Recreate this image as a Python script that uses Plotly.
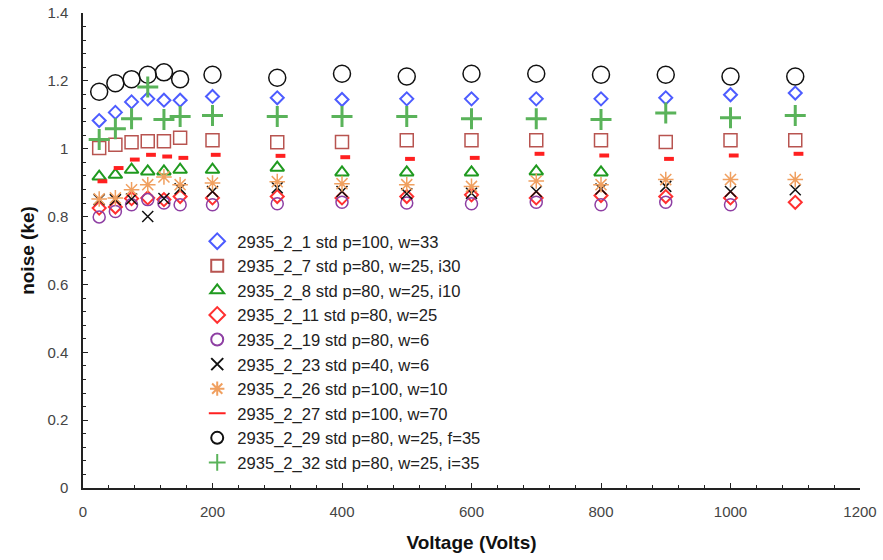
import plotly.graph_objects as go

voltage = [25, 50, 75, 100, 125, 150, 200, 300, 400, 500, 600, 700, 800, 900, 1000, 1100]
voltage_27 = [30, 55, 80, 105, 130, 155, 205, 305, 405, 505, 605, 705, 805, 905, 1005, 1105]

s_2_1 = [1.083, 1.107, 1.138, 1.147, 1.143, 1.143, 1.154, 1.150, 1.145, 1.147, 1.147, 1.147, 1.147, 1.150, 1.159, 1.164]
s_2_7 = [1.002, 1.012, 1.019, 1.022, 1.022, 1.032, 1.025, 1.019, 1.020, 1.025, 1.025, 1.025, 1.025, 1.020, 1.025, 1.025]
s_2_8 = [0.918, 0.923, 0.938, 0.933, 0.933, 0.938, 0.938, 0.944, 0.930, 0.930, 0.930, 0.933, 0.930, None, None, None]
s_2_11 = [0.825, 0.828, 0.853, 0.855, 0.850, 0.859, 0.855, 0.859, 0.855, 0.859, 0.864, 0.855, 0.862, 0.859, 0.855, 0.842]
s_2_19 = [0.799, 0.815, 0.835, 0.850, 0.840, 0.835, 0.835, 0.838, 0.842, 0.840, 0.838, 0.842, 0.835, 0.842, 0.835, None]
s_2_23 = [0.850, 0.850, 0.852, 0.800, 0.853, 0.882, 0.874, 0.885, 0.874, 0.867, 0.869, 0.874, 0.881, 0.889, 0.874, 0.879]
s_2_26 = [0.852, 0.855, 0.879, 0.894, 0.917, 0.894, 0.899, 0.903, 0.897, 0.894, 0.889, 0.905, 0.894, 0.909, 0.909, 0.909]
s_2_27 = [0.904, 0.943, 0.968, 0.982, 0.977, 0.973, 0.982, 0.979, 0.975, 0.970, 0.973, 0.985, 0.980, 0.970, 0.980, 0.985]
s_2_29 = [1.168, 1.193, 1.205, 1.218, 1.225, 1.205, 1.218, 1.209, 1.221, 1.213, 1.221, 1.221, 1.218, 1.218, 1.213, 1.213]
s_2_32 = [1.027, 1.059, 1.088, 1.182, 1.086, 1.095, 1.098, 1.095, 1.095, 1.095, 1.088, 1.088, 1.086, 1.105, 1.091, 1.098]

series = [
    ("2935_2_1 std p=100, w=33", voltage, s_2_1, "diamond-open", "#4d5cff", 10, 2),
    ("2935_2_7 std p=80, w=25, i30", voltage, s_2_7, "square-open", "#b85450", 13, 1.5),
    ("2935_2_8 std p=80, w=25, i10", voltage, s_2_8, "triangle-up-open", "#1f9a1f", 12, 2),
    ("2935_2_11 std p=80, w=25", voltage, s_2_11, "diamond-open", "#ff3030", 10, 2),
    ("2935_2_19 std p=80, w=6", voltage, s_2_19, "circle-open", "#8e3fa3", 12, 1.5),
    ("2935_2_23 std p=40, w=6", voltage, s_2_23, "x-thin-open", "#111111", 11, 1.5),
    ("2935_2_26 std p=100, w=10", voltage, s_2_26, "asterisk-open", "#f0a060", 13, 1.5),
    ("2935_2_27 std p=100, w=70", voltage_27, s_2_27, "line-ew-open", "#ff2020", 7, 4),
    ("2935_2_29 std p=80, w=25, f=35", voltage, s_2_29, "circle-open", "#111111", 17, 1.5),
    ("2935_2_32 std p=80, w=25, i=35", voltage, s_2_32, "cross-thin-open", "#5ab35a", 15, 3),
]

fig = go.Figure()
for i, (name, xs, ys, sym, col, size, lw) in enumerate(series):
    fig.add_trace(go.Scatter(
        x=xs, y=ys, mode="markers", name=name, legendgroup=f"g{i}",
        marker=dict(symbol=sym, size=size, color=col, line=dict(color=col, width=lw)),
    ))

font_fam = "Liberation Sans, Arial, sans-serif"
fig.update_layout(
    width=883, height=560,
    margin=dict(l=83, r=23, t=13, b=72, autoexpand=False),
    plot_bgcolor="white", paper_bgcolor="white",
    font=dict(family=font_fam, size=15, color="#333333"),
    showlegend=True,
    legend=dict(x=0.147, y=0.556, xanchor="left", yanchor="top",
                bgcolor="rgba(0,0,0,0)", font=dict(size=16.6, color="#222222"),
                tracegroupgap=0, itemsizing="constant", traceorder="grouped"),
    xaxis=dict(
        range=[0, 1200], tickvals=[0, 200, 400, 600, 800, 1000, 1200],
        showgrid=False, zeroline=False, showline=True, linecolor="#222222", linewidth=1.5,
        ticks="inside", ticklen=5, tickcolor="#222222", ticklabelstandoff=9,
        minor=dict(dtick=40, ticks="inside", ticklen=3, tickcolor="#222222", showgrid=False),
        title=dict(text="<b>Voltage (Volts)</b>", font=dict(size=19, color="#111111"), standoff=17),
        tickfont=dict(size=15, color="#444444"),
    ),
    yaxis=dict(
        range=[0, 1.4], tickvals=[0, 0.2, 0.4, 0.6, 0.8, 1.0, 1.2, 1.4],
        ticktext=["0", "0.2", "0.4", "0.6", "0.8", "1", "1.2", "1.4"],
        showgrid=False, zeroline=False, showline=True, linecolor="#222222", linewidth=1.5,
        ticks="inside", ticklen=5, tickcolor="#222222", ticklabelstandoff=10,
        minor=dict(dtick=0.04, ticks="inside", ticklen=3, tickcolor="#222222", showgrid=False),
        title=dict(text="<b>noise (ke)</b>", font=dict(size=19, color="#111111"), standoff=8),
        tickfont=dict(size=15, color="#444444"),
    ),
)

fig.write_html("out.html")
